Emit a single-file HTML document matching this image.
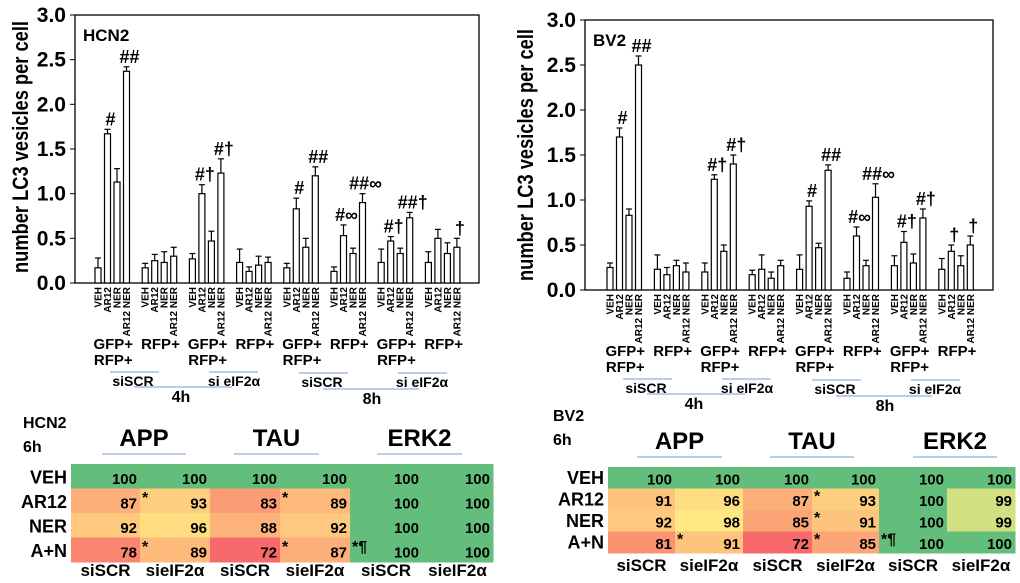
<!DOCTYPE html>
<html><head><meta charset="utf-8"><style>
html,body{margin:0;padding:0;background:#fff;}
svg{display:block;font-family:"Liberation Sans",sans-serif;font-weight:bold;}
</style></head><body>
<svg id="fig" width="1020" height="583" viewBox="0 0 1020 583" xmlns="http://www.w3.org/2000/svg"></svg>
<script>
const barLabels = ["VEH","AR12","NER","AR12 NER"];
const groupLabels = [["GFP+","RFP+"],["RFP+"],["GFP+","RFP+"],["RFP+"],["GFP+","RFP+"],["RFP+"],["GFP+","RFP+"],["RFP+"]];
const yTicks = [0,0.5,1.0,1.5,2.0,2.5,3.0];
const hcn2Values = [[0.17,1.67,1.13,2.37],[0.17,0.25,0.23,0.30],[0.27,1.00,0.47,1.23],[0.23,0.13,0.20,0.23],[0.17,0.83,0.40,1.20],[0.13,0.53,0.33,0.90],[0.23,0.47,0.33,0.73],[0.23,0.50,0.33,0.40]];
const hcn2Err = [[0.28,1.72,1.28,2.42],[0.22,0.32,0.35,0.40],[0.33,1.10,0.58,1.39],[0.38,0.18,0.30,0.29],[0.22,0.95,0.50,1.30],[0.18,0.65,0.39,1.00],[0.38,0.52,0.39,0.79],[0.35,0.60,0.45,0.50]];
const hcn2Marks = [["","#","","##"],["","","",""],["","#†","","#†"],["","","",""],["","#","","##"],["","#∞","","##∞"],["","#†","","##†"],["","","","†"]];
const bv2Values = [[0.25,1.70,0.83,2.50],[0.23,0.17,0.27,0.20],[0.20,1.23,0.43,1.40],[0.17,0.23,0.13,0.27],[0.23,0.93,0.47,1.33],[0.13,0.60,0.27,1.03],[0.27,0.53,0.30,0.80],[0.23,0.43,0.27,0.50]];
const bv2Err = [[0.30,1.80,0.90,2.60],[0.39,0.25,0.33,0.30],[0.30,1.28,0.50,1.50],[0.22,0.39,0.20,0.33],[0.39,0.99,0.52,1.39],[0.20,0.70,0.33,1.18],[0.38,0.65,0.40,0.90],[0.35,0.50,0.38,0.60]];
const bv2Marks = [["","#","","##"],["","","",""],["","#†","","#†"],["","","",""],["","#","","##"],["","#∞","","##∞"],["","#†","","#†"],["","†","","†"]];
const rowLabels = ["VEH","AR12","NER","A+N"];
const colLabels = ["siSCR","sieIF2α","siSCR","sieIF2α","siSCR","sieIF2α"];
const geneLabels = ["APP","TAU","ERK2"];
const hcn2Table = [[100,100,100,100,100,100],[87,93,83,89,100,100],[92,96,88,92,100,100],[78,89,72,87,100,100]];
const hcn2Stars = [["","","","","",""],["","*","","*","",""],["","","","","",""],["","*","","*","*¶",""]];
const bv2Table = [[100,100,100,100,100,100],[91,96,87,93,100,99],[92,98,85,91,100,99],[81,91,72,85,100,100]];
const bv2Stars = [["","","","","",""],["","","","*","",""],["","","","*","",""],["","*","","*","*¶",""]];

const NS="http://www.w3.org/2000/svg";
const svg=document.getElementById('fig');
function mk(tag,attrs,parent,text){const e=document.createElementNS(NS,tag);for(const k in attrs)e.setAttribute(k,attrs[k]);if(text!==undefined)e.textContent=text;(parent||svg).appendChild(e);return e;}

function chart(name,ox,oy,x0,gStep,frameL,frameR,y0,yTop,vals,errs,marks,title,titleX,titleC){
  const g=mk('g',{});
  
  
  const ys=v=>y0-(v/3)*(y0-yTop);
  const xs=(gi,bi)=>x0+gi*gStep+bi*9.5;
  const fr=mk('rect',{x:frameL,y:yTop,width:frameR-frameL,height:y0-yTop,fill:'none',stroke:'#000','stroke-width':1.3},g);
  
  
  yTicks.forEach(t=>{
    const y=ys(t);
    mk('line',{x1:frameL-5,x2:frameL,y1:y,y2:y,stroke:'#000'},g);
    const tl=mk('text',{x:frameL-9,y:y+7,'text-anchor':'end','font-size':21},g,t.toFixed(1));
    
    
  });
  const yt=mk('text',{transform:`translate(${titleX},${titleC}) rotate(-90)`,'text-anchor':'middle','font-size':22,textLength:252,lengthAdjust:'spacingAndGlyphs'},g,'number LC3 vesicles per cell');
  
  
  const tt=mk('text',{x:frameL+8,y:yTop+26,'font-size':17},g,title);
  
  
  vals.forEach((grp,gi)=>{
    grp.forEach((v,bi)=>{
      const cx=xs(gi,bi);
      const b=mk('rect',{x:cx-3,y:ys(v),width:6,height:y0-ys(v),fill:'#fff',stroke:'#000','stroke-width':1.2},g);
      
      
      const ey=ys(errs[gi][bi]);
      mk('line',{x1:cx,x2:cx,y1:ys(v),y2:ey,stroke:'#000','stroke-width':1.2},g);
      mk('line',{x1:cx-3,x2:cx+3,y1:ey,y2:ey,stroke:'#000','stroke-width':1.2},g);
      if(marks[gi][bi]){
        const m=mk('text',{x:cx+3,y:ey-4,'text-anchor':'middle','font-size':18},g,marks[gi][bi]);
        
        
      }
      const cl=mk('text',{transform:`translate(${cx+3.5},${y0+4}) rotate(-90)`,'text-anchor':'end','font-size':10},g,barLabels[bi]);
      
      
    });
    const gc=(xs(gi,0)+xs(gi,3))/2;
    groupLabels[gi].forEach((s,li)=>{
      const t=mk('text',{x:gc+1,y:oy+349+li*16,'text-anchor':'middle','font-size':15},g,s);
      
      
    });
  });
  const blue='#8fb0e0';
  const ann=[[110,159,372,'siSCR',133,386],[209,258,372,'si eIF2α',234,386],[299,348,373,'siSCR',322,387],[398,447,373,'si eIF2α',422,387]];
  ann.forEach(a=>{
    mk('line',{x1:a[0]+ox,x2:a[1]+ox,y1:a[2]+oy,y2:a[2]+oy,stroke:blue,'stroke-width':1.2},g);
    const t=mk('text',{x:a[4]+ox,y:a[5]+oy,'text-anchor':'middle','font-size':14},g,a[3]);
    
    
  });
  [[134,232,387,'4h',181,402],[323,419,389,'8h',372,404]].forEach(a=>{
    mk('line',{x1:a[0]+ox,x2:a[1]+ox,y1:a[2]+oy,y2:a[2]+oy,stroke:blue,'stroke-width':1.2},g);
    const t=mk('text',{x:a[4]+ox,y:a[5]+oy,'text-anchor':'middle','font-size':16},g,a[3]);
    
    
  });
}
chart('hcn2',0,0,98,47.2,75,479,283,15,hcn2Values,hcn2Err,hcn2Marks,'HCN2',28,147);
chart('bv2',513,7,610,47.4,585,993,290,20,bv2Values,bv2Err,bv2Marks,'BV2',533,155);

function colorFor(v){
  const stops=[[72,[248,105,107]],[86,[252,170,120]],[98,[255,232,132]],[99,[210,224,130]],[100,[99,190,123]]];
  if(v<=72)return 'rgb(248,105,107)';
  for(let i=1;i<stops.length;i++){
    if(v<=stops[i][0]){const a=stops[i-1],b=stops[i];const t=(v-a[0])/(b[0]-a[0]);
      const c=a[1].map((x,k)=>Math.round(x+(b[1][k]-x)*t));return `rgb(${c})`;}
  }
  return 'rgb(99,190,123)';
}
function table(name,label,cols,rows,geneY,lineY,titleX,titleY,lineXs,botY,data,stars){
  const g=mk('g',{});
  
  
  const t1=mk('text',{x:titleX,y:titleY,'font-size':16},g,label);
  
  
  const t2=mk('text',{x:titleX,y:titleY+24,'font-size':16},g,'6h');
  
  
  geneLabels.forEach((s,i)=>{
    const c=(lineXs[i][0]+lineXs[i][1])/2;
    const gt=mk('text',{x:c,y:geneY,'text-anchor':'middle','font-size':24},g,s);
    
    
    mk('line',{x1:lineXs[i][0],x2:lineXs[i][1],y1:lineY,y2:lineY,stroke:'#8fb0e0','stroke-width':1.2},g);
  });
  const rh=(rows[1]-rows[0])/4;
  data.forEach((row,ri)=>{
    const y=rows[0]+ri*rh;
    const rl=mk('text',{x:cols[0]-4,y:y+rh*0.8,'text-anchor':'end','font-size':18},g,rowLabels[ri]);
    
    
    row.forEach((v,ci)=>{
      const x=cols[ci],w=cols[ci+1]-cols[ci];
      const r=mk('rect',{x:x,y:y,width:w+0.5,height:rh+0.5,fill:colorFor(v)},g);
      
      
    });
  });
  data.forEach((row,ri)=>{
    const y=rows[0]+ri*rh;
    row.forEach((v,ci)=>{
      const vt=mk('text',{x:cols[ci+1]-3,y:y+rh*0.82,'text-anchor':'end','font-size':15},g,String(v));
      
      
      if(stars[ri][ci]){
        const st=mk('text',{x:cols[ci]+2,y:y+rh*0.6,'font-size':16},g,stars[ri][ci]);
        
        
      }
    });
  });
  colLabels.forEach((s,ci)=>{
    const c=(cols[ci]+cols[ci+1])/2;
    const ct=mk('text',{x:c,y:botY,'text-anchor':'middle','font-size':17},g,s);
    
    
  });
}
table('hcn2','HCN2',[71,140,210,280,350,422,493],[464,562],446,454,23,428,[[102,186],[234,319],[377,462]],576,hcn2Table,hcn2Stars);
table('bv2','BV2',[608,675,743,812,879,947,1015],[467,553],449,457,553,421,[[637,722],[770,854],[913,997]],571,bv2Table,bv2Stars);
</script>
</body></html>
